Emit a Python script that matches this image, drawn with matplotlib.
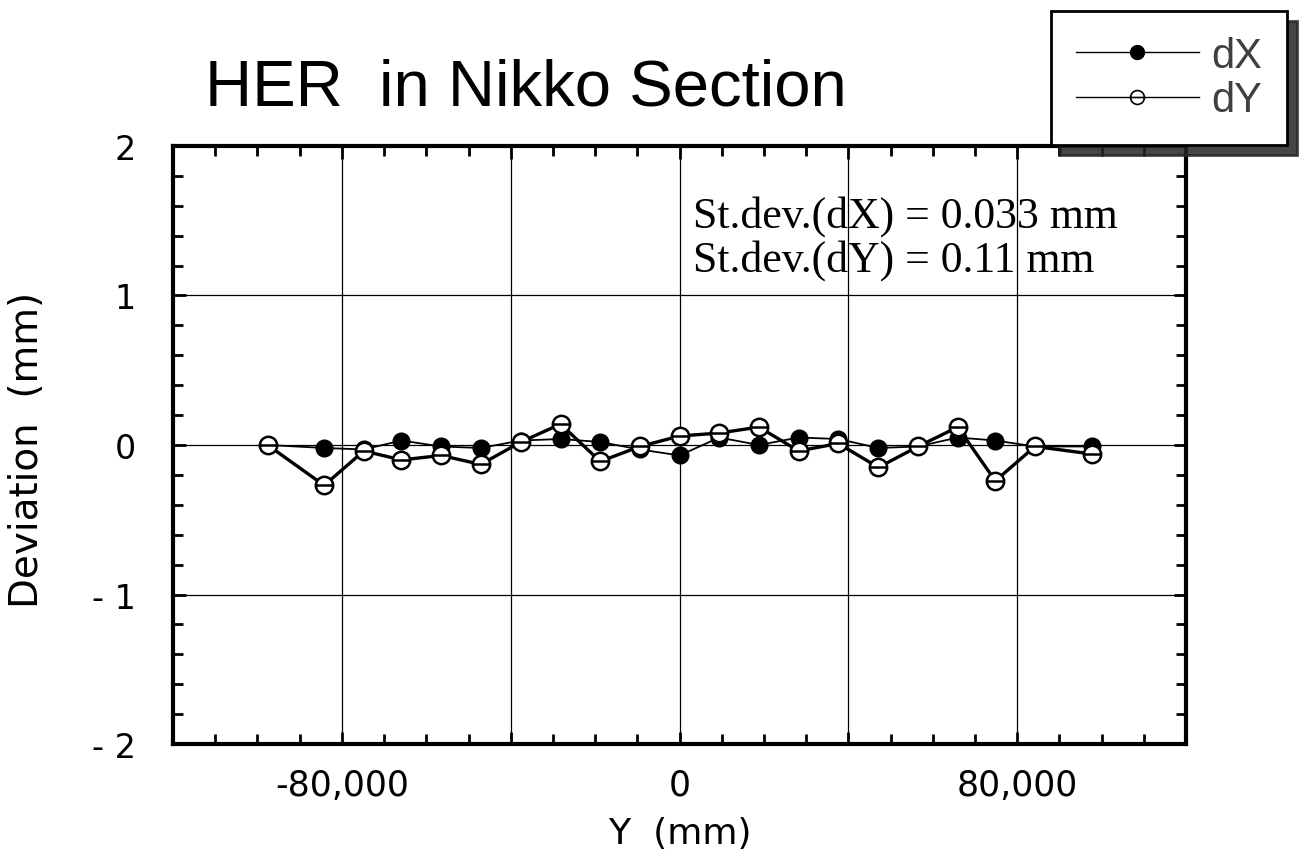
import matplotlib
matplotlib.use("Agg")
import matplotlib.pyplot as plt
from matplotlib.path import Path
from matplotlib.ticker import MultipleLocator, FuncFormatter

# survey positions along the section (mm)
pos = [-97600, -84200, -74800, -65900, -56500, -47100, -37600, -28200, -18800, -9400,
       0, 9400, 18800, 28200, 37600, 47100, 56500, 65900, 74800, 84200, 97600]
# deviations (mm)
dx = [0.00, -0.02, -0.03, 0.03, -0.01, -0.02, 0.03, 0.04, 0.02, -0.03,
      -0.07, 0.05, 0.00, 0.05, 0.04, -0.02, -0.01, 0.05, 0.03, -0.01, -0.01]
dy = [0.00, -0.27, -0.04, -0.10, -0.07, -0.13, 0.02, 0.14, -0.11, -0.01,
      0.06, 0.08, 0.12, -0.04, 0.01, -0.15, -0.01, 0.12, -0.24, -0.01, -0.06]

title = "HER  in Nikko Section"
stats = ["St.dev.(dX) = 0.033 mm", "St.dev.(dY) = 0.11 mm"]

SANS = "Liberation Sans"
SERIF = "Liberation Serif"
NUM = "DejaVu Sans"

# open circle with a bar through it, like the original plotter symbol
open_mark = Path.make_compound_path(
    Path.unit_circle(),
    Path([[-1, 0], [1, 0]], [Path.MOVETO, Path.LINETO]))

fig = plt.figure(figsize=(13.07, 8.53), dpi=100)
ax = fig.add_axes([0.1324, 0.1266, 0.7751, 0.7011])

ax.plot(pos, dx, color="black", lw=1.3, marker="o", ms=12,
        mfc="black", mec="black", zorder=3, label="dX")
ax.plot(pos, dy, color="black", lw=2.4, marker=open_mark, ms=12.5,
        mfc="white", mec="black", mew=1.8, zorder=4, label="dY")

ax.set_xlim(-120000, 120000)
ax.set_ylim(-2, 2)

ax.xaxis.set_major_locator(MultipleLocator(40000))
ax.xaxis.set_minor_locator(MultipleLocator(10000))
ax.yaxis.set_major_locator(MultipleLocator(1))
ax.yaxis.set_minor_locator(MultipleLocator(0.2))


def xfmt(v, _):
    if abs(v) < 1:
        return "0"
    if round(v) % 80000 != 0:
        return ""
    s = "{:,.0f}".format(abs(v))
    return ("-" if v < 0 else "") + s


def yfmt(v, _):
    v = int(round(v))
    return ("- " + str(-v)) if v < 0 else str(v)


ax.xaxis.set_major_formatter(FuncFormatter(xfmt))
ax.yaxis.set_major_formatter(FuncFormatter(yfmt))

ax.grid(True, which="major", color="black", lw=0.9)
ax.tick_params(which="both", direction="in", top=True, right=True, width=2, color="black")
ax.tick_params(which="major", length=9)
ax.tick_params(which="minor", length=7)
ax.tick_params(axis="x", which="major", pad=17)
ax.tick_params(axis="y", which="major", pad=27)
for lab in ax.get_xticklabels():
    lab.set_fontfamily(NUM)
    lab.set_fontsize(25)
for lab in ax.get_yticklabels():
    lab.set_fontfamily(NUM)
    lab.set_fontsize(24)
for sp in ax.spines.values():
    sp.set_linewidth(3)

fig.text(0.5199, 9 / 853, "Y  (mm)", family=NUM, fontsize=26, ha="center", va="baseline")
fig.text(0.021, 1 - 450 / 853, "Deviation  (mm)", family=NUM, fontsize=28,
         rotation=90, ha="center", va="center")
fig.text(205 / 1307, 1 - 105 / 853, title, family=SANS, fontsize=47, ha="left", va="baseline")

fig.text(693 / 1307, 1 - 228 / 853, stats[0], family=SERIF, fontsize=31.5, ha="left", va="baseline")
fig.text(693 / 1307, 1 - 272 / 853, stats[1], family=SERIF, fontsize=31.5, ha="left", va="baseline")

# legend with thin sample lines and a drop shadow
h1 = plt.Line2D([], [], color="black", lw=1.0, marker="o", ms=10, mfc="black", mec="black")
h2 = plt.Line2D([], [], color="black", lw=1.0, marker=open_mark, ms=10,
                mfc="white", mec="black", mew=1.2)
leg = fig.legend([h1, h2], ["dX", "dY"], loc="upper right",
                 bbox_to_anchor=(1287 / 1307, 1 - 12 / 853), borderaxespad=0,
                 prop={"family": SANS, "size": 30}, handlelength=2.95,
                 handletextpad=0.3, borderpad=0.6, labelspacing=0.1,
                 fancybox=False, edgecolor="black", framealpha=1,
                 shadow={"ox": 7, "oy": -7, "color": "0.15", "alpha": 0.85})
leg.get_frame().set_linewidth(2)
for t in leg.get_texts():
    t.set_color("0.25")

fig.savefig("out.png", dpi=100)
